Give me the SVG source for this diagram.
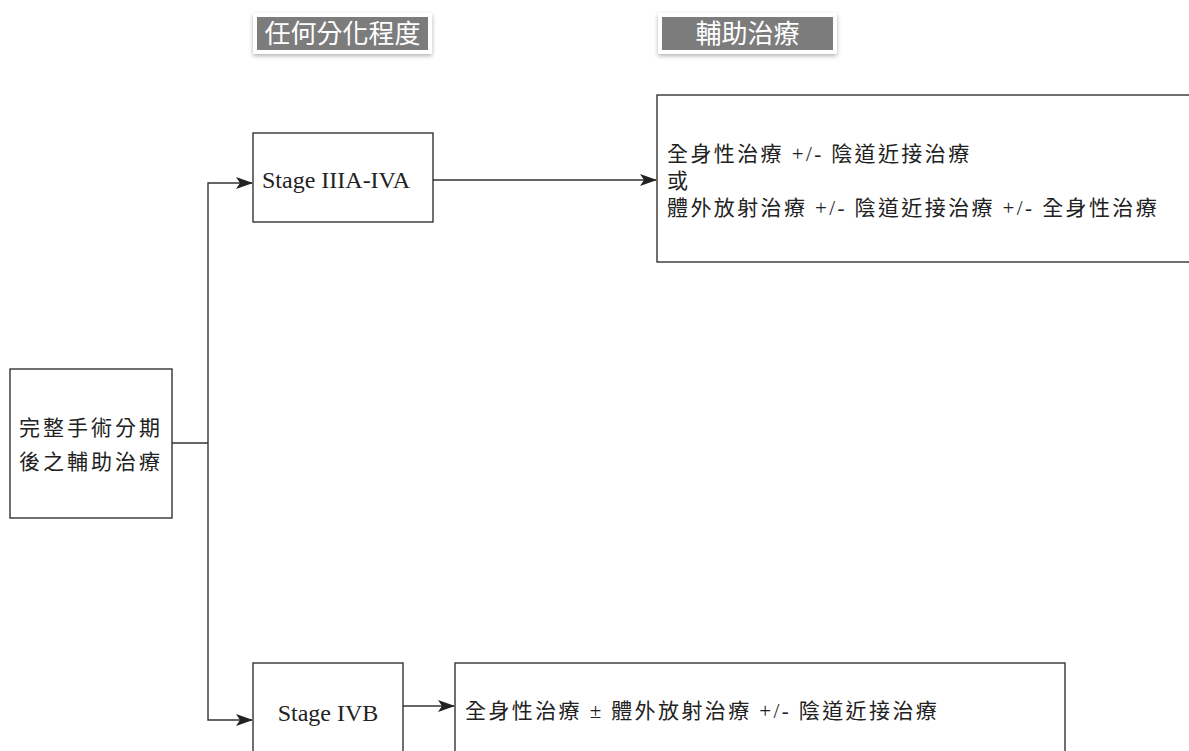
<svg xmlns="http://www.w3.org/2000/svg" width="1189" height="751" viewBox="0 0 1189 751">
<defs>
<style>
.box{fill:#fff;stroke:#333;stroke-width:1.4}
.hdr{fill:#7b7b7d;stroke:#fff;stroke-width:4}
.ht{font-family:"Noto Sans CJK TC","Noto Sans",sans-serif;font-size:26px;fill:#fff}
.cjk{font-family:"Liberation Serif","Noto Sans CJK TC",serif;font-size:21px;fill:#222;letter-spacing:2.4px}
.en{font-family:"Liberation Serif",serif;font-size:24px;fill:#222}
.con{fill:none;stroke:#333;stroke-width:1.4}
</style>
<marker id="arr" markerWidth="17" markerHeight="12" refX="16" refY="6" orient="auto" markerUnits="userSpaceOnUse">
<path d="M0,0 L17,6 L0,12 L4,6 Z" fill="#222"/>
</marker>
<filter id="sh" x="-10%" y="-20%" width="120%" height="150%">
<feDropShadow dx="0" dy="2" stdDeviation="2" flood-color="#000" flood-opacity="0.3"/>
</filter>
</defs>
<rect width="1189" height="751" fill="#fff"/>
<g id="header1">
<rect class="hdr" x="255" y="15" width="175" height="37" filter="url(#sh)"/>
<text class="ht" x="342.5" y="43" text-anchor="middle">任何分化程度</text>
</g>
<g id="header2">
<rect class="hdr" x="660" y="15" width="175" height="37" filter="url(#sh)"/>
<text class="ht" x="747.5" y="43" text-anchor="middle">輔助治療</text>
</g>
<g id="connectors">
<polyline class="con" points="172,443 208,443"/>
<polyline class="con" points="208,443 208,183 252,183" marker-end="url(#arr)"/>
<polyline class="con" points="208,443 208,720 252,720" marker-end="url(#arr)"/>
<line class="con" x1="433" y1="180" x2="656" y2="180" marker-end="url(#arr)"/>
<line class="con" x1="403" y1="706" x2="454" y2="706" marker-end="url(#arr)"/>
</g>
<g id="root">
<rect class="box" x="10" y="369" width="162" height="149"/>
<text class="cjk" x="91" y="435" text-anchor="middle" style="letter-spacing:3px">完整手術分期</text>
<text class="cjk" x="91" y="469" text-anchor="middle" style="letter-spacing:3px">後之輔助治療</text>
</g>
<g id="stage3">
<rect class="box" x="253" y="133" width="180" height="89"/>
<text class="en" x="262" y="188">Stage IIIA-IVA</text>
</g>
<g id="tx3">
<rect class="box" x="657" y="95" width="545" height="167"/>
<text class="cjk" x="667" y="161">全身性治療 +/- 陰道近接治療</text>
<text class="cjk" x="667" y="188">或</text>
<text class="cjk" x="667" y="215">體外放射治療 +/- 陰道近接治療 +/- 全身性治療</text>
</g>
<g id="stage4b">
<rect class="box" x="253" y="663" width="150" height="100"/>
<text class="en" x="328" y="721" text-anchor="middle">Stage IVB</text>
</g>
<g id="tx4b">
<rect class="box" x="455" y="663" width="610" height="100"/>
<text class="cjk" x="465" y="718">全身性治療 ± 體外放射治療 +/- 陰道近接治療</text>
</g>
</svg>
